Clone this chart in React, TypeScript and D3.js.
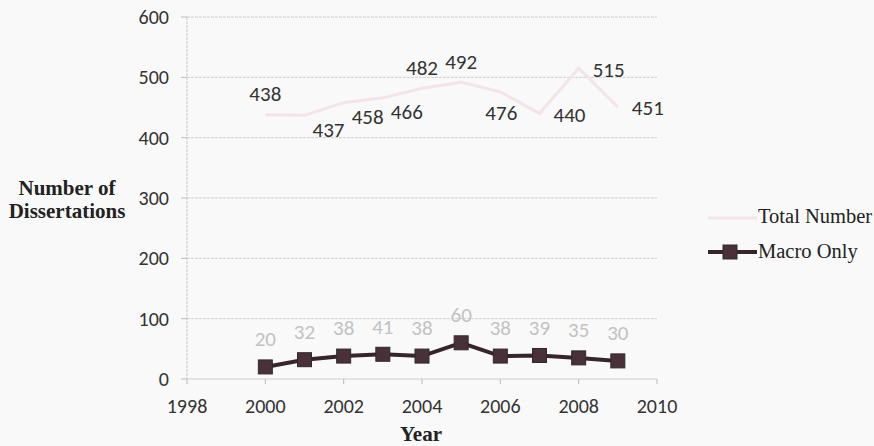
import React from "react";
import * as d3 from "d3";

const years = [2000, 2001, 2002, 2003, 2004, 2005, 2006, 2007, 2008, 2009];
const totalNumber = [438, 437, 458, 466, 482, 492, 476, 440, 515, 451];
const macroOnly = [20, 32, 38, 41, 38, 60, 38, 39, 35, 30];
const totalLabelPlacement = ["above", "belowRight", "belowRight", "belowRight", "above", "above", "below", "right", "right", "right"];
const xTicks = [1998, 2000, 2002, 2004, 2006, 2008, 2010];
const yTicks = [0, 100, 200, 300, 400, 500, 600];
const seriesNames = ["Total Number", "Macro Only"];

const W = 874, H = 446;
const M = { left: 187, right: 217, top: 17, bottom: 67 };

const placeOffset: Record<string, [number, number]> = {
  above: [0, -21],
  below: [1, 21],
  belowRight: [24, 14],
  right: [30, 1],
};

export default function App() {
  const x = d3.scaleLinear().domain([1998, 2010]).range([M.left, W - M.right]);
  const y = d3.scaleLinear().domain([0, 600]).range([H - M.bottom, M.top]);
  const line = d3.line<[number, number]>().x((d) => x(d[0])).y((d) => y(d[1]));
  const totalPts = years.map((yr, i) => [yr, totalNumber[i]] as [number, number]);
  const macroPts = years.map((yr, i) => [yr, macroOnly[i]] as [number, number]);
  const sans = "Calibri, Carlito, 'Open Sans', sans-serif";
  const serif = "'Times New Roman', 'Liberation Serif', serif";
  const sq = 14;
  return (
    <svg width={W} height={H} style={{ position: "absolute", left: 0, top: 0, background: "#f9f9f9" }}>
      {yTicks.map((t) => (
        <g key={t}>
          <line x1={M.left} x2={W - M.right} y1={y(t)} y2={y(t)} stroke="#cfcfcf" strokeWidth={1} strokeDasharray={t === 0 ? undefined : "3,1"} />
          <line x1={M.left - 6} x2={M.left} y1={y(t)} y2={y(t)} stroke="#bbb" />
          <text x={M.left - 18} y={y(t)} dy="0.35em" textAnchor="end" fontFamily={sans} fontSize={20} fill="#333">{t}</text>
        </g>
      ))}
      <line x1={M.left} x2={M.left} y1={y(600)} y2={y(0)} stroke="#c8c8c8" strokeDasharray="3,1" />
      {xTicks.map((t) => (
        <g key={t}>
          <line x1={x(t)} x2={x(t)} y1={y(0)} y2={y(0) + 5} stroke="#bbb" />
          <text x={x(t)} y={y(0) + 34} textAnchor="middle" fontFamily={sans} fontSize={20} fill="#333">{t}</text>
        </g>
      ))}
      <path d={line(totalPts) || ""} fill="none" stroke="#f3e3ea" strokeWidth={3} />
      {totalPts.map((p, i) => {
        const [dx, dy] = placeOffset[totalLabelPlacement[i]];
        return (
          <text key={i} x={x(p[0]) + dx} y={y(p[1]) + dy} dy="0.35em" textAnchor="middle" fontFamily={sans} fontSize={21} fill="#333">{p[1]}</text>
        );
      })}
      <path d={line(macroPts) || ""} fill="none" stroke="#36262c" strokeWidth={4} />
      {macroPts.map((p, i) => (
        <rect key={i} x={x(p[0]) - sq / 2} y={y(p[1]) - sq / 2} width={sq} height={sq} fill="#4a3038" stroke="#2e2a2a" strokeWidth={1} />
      ))}
      {macroPts.map((p, i) => (
        <text key={i} x={x(p[0])} y={y(p[1]) - 28} dy="0.35em" textAnchor="middle" fontFamily={sans} fontSize={21} fill="#c2c2c2">{p[1]}</text>
      ))}
      <text x={421} y={441} textAnchor="middle" fontFamily={serif} fontWeight="bold" fontSize={21} fill="#222">Year</text>
      <text x={67} y={195} textAnchor="middle" fontFamily={serif} fontWeight="bold" fontSize={21} fill="#222">Number of</text>
      <text x={67} y={218} textAnchor="middle" fontFamily={serif} fontWeight="bold" fontSize={21} fill="#222">Dissertations</text>
      <line x1={708} x2={757} y1={218} y2={218} stroke="#f3e3ea" strokeWidth={3} />
      <text x={758} y={223} fontFamily={serif} fontSize={20.5} fill="#222">{seriesNames[0]}</text>
      <line x1={708} x2={757} y1={252} y2={252} stroke="#36262c" strokeWidth={4} />
      <rect x={730 - sq / 2} y={252 - sq / 2} width={sq} height={sq} fill="#4a3038" stroke="#2e2a2a" />
      <text x={758} y={258} fontFamily={serif} fontSize={20.5} fill="#222">{seriesNames[1]}</text>
    </svg>
  );
}
